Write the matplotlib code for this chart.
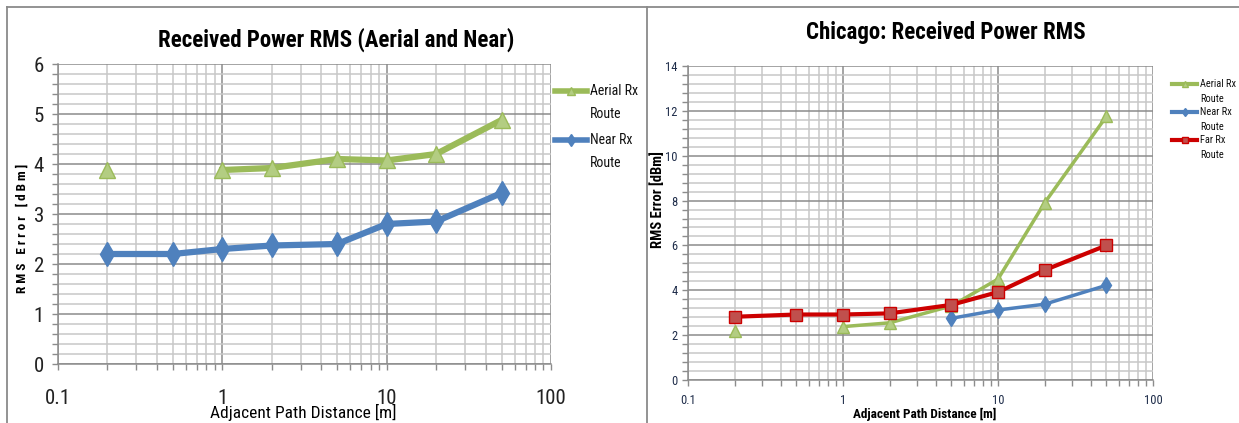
import numpy as np
import matplotlib
matplotlib.use("Agg")
import matplotlib.pyplot as plt
from matplotlib import font_manager
from matplotlib.lines import Line2D
from matplotlib.ticker import FixedLocator, LogLocator, NullFormatter, FixedFormatter

# ---------------- data ----------------
x_dist = [0.2, 0.5, 1, 2, 5, 10, 20, 50]

left_aerial = [3.88, np.nan, 3.88, 3.92, 4.10, 4.07, 4.20, 4.88]
left_near = [2.20, 2.20, 2.30, 2.37, 2.40, 2.80, 2.85, 3.42]

right_aerial = [2.20, np.nan, 2.38, 2.55, 3.30, 4.50, 7.90, 11.75]
right_near = [np.nan, np.nan, np.nan, np.nan, 2.75, 3.12, 3.38, 4.22]
right_far = [2.82, 2.92, 2.92, 2.97, 3.35, 3.92, 4.90, 6.00]

x_ticks = [0.1, 1, 10, 100]
x_ticklabels = ["0.1", "1", "10", "100"]
left_yticks = [0, 1, 2, 3, 4, 5, 6]
right_yticks = [0, 2, 4, 6, 8, 10, 12, 14]

left_title = "Received Power RMS (Aerial and Near)"
right_title = "Chicago: Received Power RMS"
ylabel = "RMS Error [dBm]"
xlabel = "Adjacent Path Distance [m]"
lab_aerial = ["Aerial Rx", "Route"]
lab_near = ["Near Rx", "Route"]
lab_far = ["Far Rx", "Route"]

# ---------------- fonts ----------------
avail = {f.name for f in font_manager.fontManager.ttflist}
narrow = None
for cand in ["Liberation Sans Narrow", "DejaVu Sans Condensed", "Roboto Condensed", "Open Sans Condensed"]:
    if cand in avail:
        narrow = cand
        break
if narrow is None:
    narrow = "DejaVu Sans"
plt.rcParams['font.family'] = [narrow, "DejaVu Sans"]

GREEN = "#9BBB59"
GREEN_F = "#B3CD82"
BLUE = "#4F81BD"
RED = "#CC0000"
RED_F = "#C0504D"
MAJ = "#8C8C8C"
MIN = "#C8C8C8"

W, H = 1239, 423
fig = plt.figure(figsize=(W / 100, H / 100), dpi=100)

def fx(x):
    return x / W

def fy(y):
    return 1 - y / H

def px_axes(x0, y0, x1, y1):
    return fig.add_axes([x0 / W, 1 - y1 / H, (x1 - x0) / W, (y1 - y0) / H])

def style_axes(ax, ymax, ymajor, yminor, tick_fs, tick_color):
    ax.set_xscale('log')
    ax.set_xlim(0.1, 100)
    ax.set_ylim(0, ymax)
    ax.xaxis.set_major_locator(FixedLocator(x_ticks))
    ax.xaxis.set_major_formatter(FixedFormatter(x_ticklabels))
    ax.xaxis.set_minor_locator(LogLocator(base=10, subs=np.arange(2, 10)))
    ax.xaxis.set_minor_formatter(NullFormatter())
    ax.yaxis.set_major_locator(FixedLocator(ymajor))
    ax.yaxis.set_minor_locator(FixedLocator(yminor))
    ax.grid(which='major', color=MAJ, lw=1.1)
    ax.grid(which='minor', color=MIN, lw=1.1)
    ax.set_axisbelow(True)
    for s in ['top', 'right']:
        ax.spines[s].set_visible(False)
    for s in ['left', 'bottom']:
        ax.spines[s].set_color(MAJ)
        ax.spines[s].set_linewidth(1.1)
    ax.tick_params(which='both', direction='out', color=MAJ, length=4, width=1.0,
                   labelsize=tick_fs, labelcolor=tick_color)

def legend_entry(x0, x1, y, y2, labels, color, lw, marker, ms, mfc, fs, tx):
    fig.add_artist(Line2D([fx(x0), fx(x1)], [fy(y), fy(y)], transform=fig.transFigure,
                          color=color, lw=lw))
    fig.add_artist(Line2D([fx((x0 + x1) / 2)], [fy(y)], transform=fig.transFigure,
                          color=color, marker=marker, ms=ms, mfc=mfc, mec=color, lw=0))
    fig.text(fx(tx), fy(y), labels[0], ha='left', va='center', fontsize=fs, color="#111111")
    fig.text(fx(tx), fy(y2), labels[1], ha='left', va='center', fontsize=fs, color="#111111")

# ---------------- left chart ----------------
axL = px_axes(58, 64, 551, 364)
style_axes(axL, 6, left_yticks, list(np.arange(0, 6.01, 0.2)), 15, "#222222")
axL.tick_params(axis='y', pad=6)
axL.tick_params(axis='x', pad=14)
axL.plot(x_dist, left_aerial, color=GREEN, lw=4.5, marker='^', ms=11,
         mfc=GREEN_F, mec=GREEN, mew=1.0, zorder=3)
axL.plot(x_dist, left_near, color=BLUE, lw=4.5, marker='d', ms=12,
         mfc=BLUE, mec=BLUE, zorder=3)
fig.text(fx(336), fy(40), left_title, ha='center', va='center', fontsize=16.5,
         fontweight='semibold')
fig.text(fx(303), fy(412), xlabel, ha='center', va='center', fontsize=12.5)
fig.text(fx(22), fy(228), "R M S   E r r o r   [ d B m ]", rotation=90,
         ha='center', va='center', fontsize=9.5, fontweight='bold')
legend_entry(555, 587, 91, 114, lab_aerial, GREEN, 4, '^', 6, GREEN_F, 10, 590)
legend_entry(555, 587, 140, 163, lab_near, BLUE, 4, 'd', 6, BLUE, 10, 590)

# ---------------- right chart ----------------
axR = px_axes(688, 66, 1153, 380)
style_axes(axR, 14, right_yticks, list(np.arange(0, 14.01, 0.4)), 9, "#1F2D4A")
axR.tick_params(axis='x', pad=6)
axR.plot(x_dist, right_aerial, color=GREEN, lw=2.5, marker='^', ms=9,
         mfc=GREEN_F, mec=GREEN, mew=1.0, zorder=3)
axR.plot(x_dist, right_near, color=BLUE, lw=2.5, marker='d', ms=8,
         mfc=BLUE, mec=BLUE, zorder=3)
axR.plot(x_dist, right_far, color=RED, lw=3.0, marker='s', ms=8.5,
         mfc=RED_F, mec=RED, mew=1.0, zorder=4)
fig.text(fx(946), fy(33), right_title, ha='center', va='center', fontsize=16.5, fontweight='bold')
fig.text(fx(925), fy(414), xlabel, ha='center', va='center', fontsize=9.5, fontweight='bold')
fig.text(fx(658), fy(200), ylabel, rotation=90,
         ha='center', va='center', fontsize=10.5, fontweight='bold')
legend_entry(1172, 1197, 84, 99, lab_aerial, GREEN, 3, '^', 5, GREEN_F, 7.5, 1200)
legend_entry(1172, 1197, 112, 127, lab_near, BLUE, 3, 'd', 4.5, BLUE, 7.5, 1200)
legend_entry(1172, 1197, 140, 155, lab_far, RED, 3, 's', 4.5, RED_F, 7.5, 1200)

# ---------------- frames ----------------
fc = "#8A8A8A"
fig.add_artist(Line2D([fx(7), fx(7)], [fy(7), 0], transform=fig.transFigure, color=fc, lw=1.3))
fig.add_artist(Line2D([fx(647), fx(647)], [fy(7), 0], transform=fig.transFigure, color=fc, lw=1.3))
fig.add_artist(Line2D([fx(7), 1], [fy(7), fy(7)], transform=fig.transFigure, color=fc, lw=1.3))

fig.savefig("out.png", dpi=100)
